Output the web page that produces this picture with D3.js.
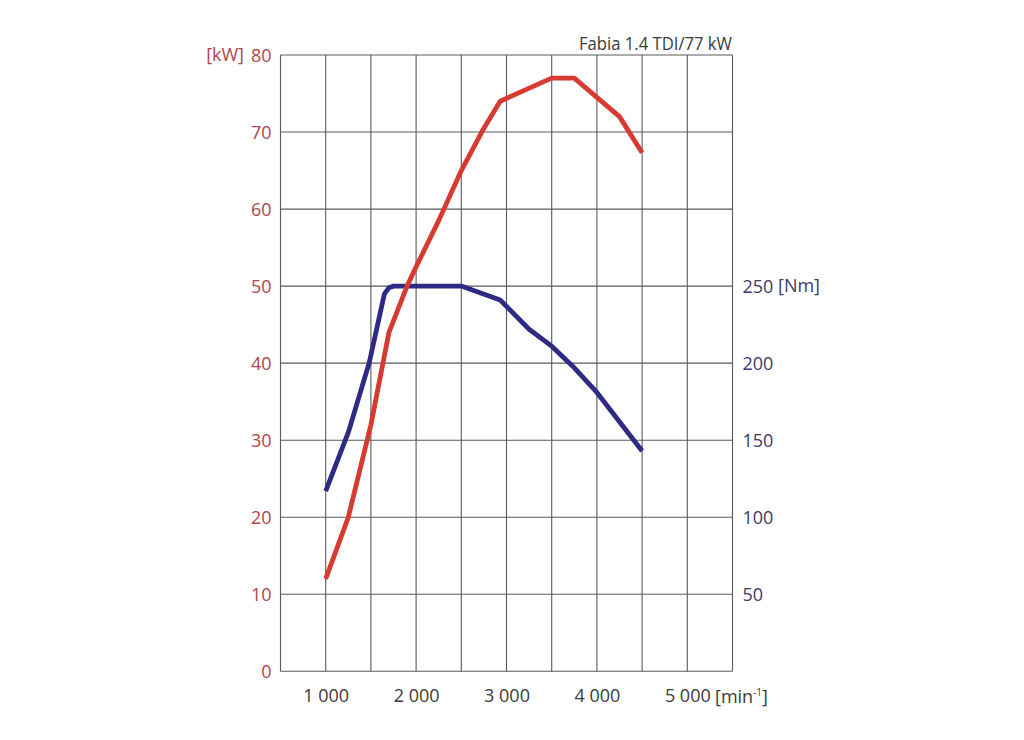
<!DOCTYPE html>
<html>
<head>
<meta charset="utf-8">
<script src="https://cdn.jsdelivr.net/npm/d3@7"></script>
<style>
  html, body { margin: 0; padding: 0; background: #ffffff; }
  svg { display: block; }
  text { font-family: "Open Sans", "Noto Sans", sans-serif; font-weight: 400; }
</style>
</head>
<body>
<svg id="chart" width="1024" height="740"></svg>
<script>
// ---- data ----
const title = "Fabia 1.4 TDI/77 kW";
const rpmTicks = [1000, 2000, 3000, 4000, 5000];
const rpmGrid = [500, 1000, 1500, 2000, 2500, 3000, 3500, 4000, 4500, 5000, 5500];
const kwTicks = [0, 10, 20, 30, 40, 50, 60, 70, 80];
const nmTicks = [50, 100, 150, 200, 250];

const powerRpm = [1000, 1250, 1500, 1700, 1900, 2000, 2250, 2500, 2750, 2930, 3500, 3750, 4250, 4500];
const powerKw  = [12,   20,   32,   44,   50,   52.5, 58.5, 65,   70.5, 74,   77,   77,   72,   67.3];

const torqueRpm = [1000, 1250, 1480, 1650, 1700, 1750, 2500, 2930, 3250, 3500, 3750, 4000, 4250, 4500];
const torqueNm  = [117,  155,  200,  245,  249,  250,  250,  241,  222,  211,  197,  181,  162,  143];

// ---- layout ----
const svg = d3.select("#chart");
const x = d3.scaleLinear().domain([500, 5500]).range([280.5, 732.5]);
const yKw = d3.scaleLinear().domain([0, 80]).range([671.3, 55]);
const yNm = d3.scaleLinear().domain([0, 400]).range([671.3, 55]);

const gridColor = "#5a5a5a";
const redLine = "#d63a31";
const blueLine = "#2f2a84";
const redText = "#b0454d";
const blueText = "#3c3a66";
const darkText = "#3a3a3a";
const fs = 18;

// grid
const g = svg.append("g");
g.selectAll("line.v").data(rpmGrid).join("line")
  .attr("x1", d => x(d)).attr("x2", d => x(d))
  .attr("y1", yKw(0)).attr("y2", yKw(80))
  .attr("stroke", gridColor).attr("stroke-width", 1.1);
g.selectAll("line.h").data(kwTicks).join("line")
  .attr("x1", x(500)).attr("x2", x(5500))
  .attr("y1", d => yKw(d)).attr("y2", d => yKw(d))
  .attr("stroke", gridColor).attr("stroke-width", 1.1);

// left axis labels
const leftAxis = d3.axisLeft(yKw).tickValues(kwTicks).tickSize(0).tickPadding(9).tickFormat(d3.format("d"));
const la = svg.append("g").attr("transform", `translate(${x(500)},0)`).call(leftAxis);
la.select(".domain").remove();
la.selectAll("text").attr("fill", redText).style("font-size", fs + "px").attr("dy", "0.35em");
svg.append("text").attr("x", 244).attr("y", yKw(80)).attr("dy", "0.35em")
  .attr("text-anchor", "end").attr("fill", redText).style("font-size", fs + "px").text("[kW]");

// right axis labels
const rightAxis = d3.axisRight(yNm).tickValues(nmTicks).tickSize(0).tickPadding(10).tickFormat(d3.format("d"));
const ra = svg.append("g").attr("transform", `translate(${x(5500)},0)`).call(rightAxis);
ra.select(".domain").remove();
ra.selectAll("text").attr("fill", blueText).style("font-size", fs + "px").attr("dy", "0.35em");
svg.append("text").attr("x", 778).attr("y", yNm(250)).attr("dy", "0.35em")
  .attr("fill", blueText).style("font-size", fs + "px").text("[Nm]");

// bottom axis labels
const fmtRpm = d => d3.format(",")(d).replace(",", " ");
const bottomAxis = d3.axisBottom(x).tickValues(rpmTicks).tickSize(0).tickPadding(18).tickFormat(fmtRpm);
const ba = svg.append("g").attr("transform", `translate(0,${yKw(0)})`).call(bottomAxis);
ba.select(".domain").remove();
ba.selectAll("text").attr("fill", darkText).style("font-size", fs + "px");
const unit = svg.append("text").attr("x", 715).attr("y", 703)
  .attr("fill", darkText).style("font-size", fs + "px");
unit.append("tspan").text("[min");
unit.append("tspan").attr("dy", -7).style("font-size", "10px").text("-1");
unit.append("tspan").attr("dy", 7).text("]");

// title
svg.append("text").attr("x", 732).attr("y", 50).attr("text-anchor", "end")
  .attr("textLength", 153).attr("lengthAdjust", "spacingAndGlyphs")
  .attr("fill", darkText).style("font-size", fs + "px").text(title);

// curves
const powerData = powerRpm.map((r, i) => [r, powerKw[i]]);
const torqueData = torqueRpm.map((r, i) => [r, torqueNm[i]]);

svg.append("path").datum(torqueData)
  .attr("fill", "none").attr("stroke", blueLine).attr("stroke-width", 4.8)
  .attr("stroke-linejoin", "round")
  .attr("d", d3.line().x(d => x(d[0])).y(d => yNm(d[1])));

svg.append("path").datum(powerData)
  .attr("fill", "none").attr("stroke", redLine).attr("stroke-width", 4.8)
  .attr("stroke-linejoin", "round")
  .attr("d", d3.line().x(d => x(d[0])).y(d => yKw(d[1])));
</script>
</body>
</html>
